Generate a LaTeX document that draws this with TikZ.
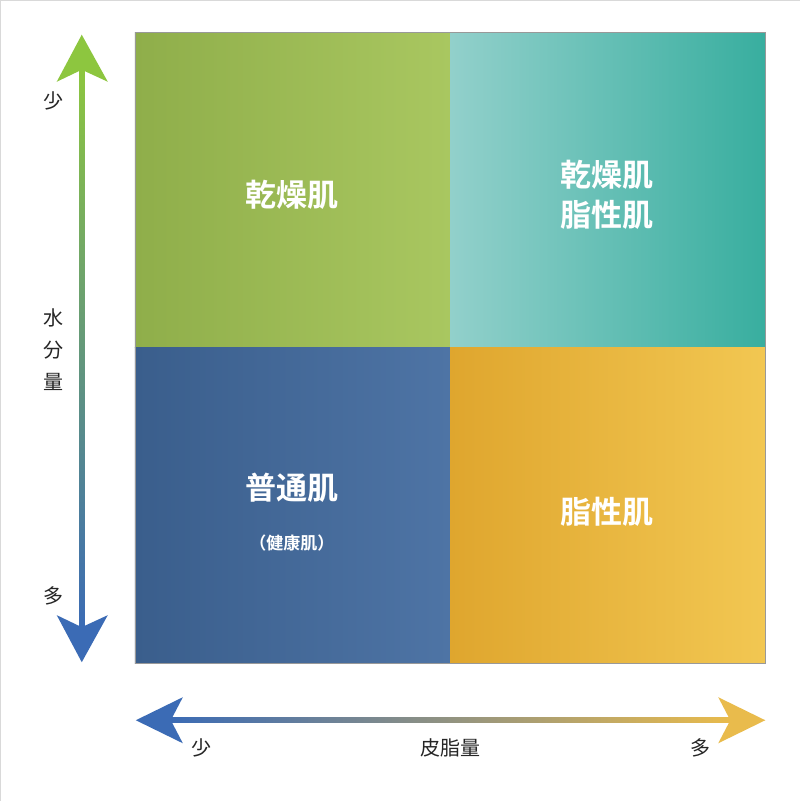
\documentclass[tikz,border=0pt]{standalone}
\usepackage{fontspec}
\newfontfamily\cjk{Noto Sans CJK JP}
\newfontfamily\cjkb{Noto Sans CJK JP Bold}
\definecolor{g1}{HTML}{8FAE4A}\definecolor{g2}{HTML}{A9C760}
\definecolor{t1}{HTML}{92D0CB}\definecolor{t2}{HTML}{38AE9F}
\definecolor{b1}{HTML}{3A5E8C}\definecolor{b2}{HTML}{4E74A5}
\definecolor{y1}{HTML}{DFA62E}\definecolor{y2}{HTML}{F2C752}
\definecolor{ag}{HTML}{8DC63F}\definecolor{ab}{HTML}{3B6BB5}\definecolor{ay}{HTML}{E9BB4C}
\tikzset{big/.style={text=white,font=\cjkb\fontsize{31}{40}\selectfont,align=center},
lab/.style={text=black!85,font=\cjk\fontsize{20}{22}\selectfont}}
\begin{document}
\begin{tikzpicture}[x=1pt,y=-1pt]
\draw[black!15,fill=white] (0.5,0.5) rectangle (799.5,800.5);
\shade[left color=g1,right color=g2] (135,33) rectangle (450,348);
\shade[left color=t1,right color=t2] (450,33) rectangle (765,348);
\shade[left color=b1,right color=b2] (135,348) rectangle (450,663);
\shade[left color=y1,right color=y2] (450,348) rectangle (765,663);
\draw[black!40,line width=0.6pt] (135,33) rectangle (765,663);
\node[big] (q1) at (292,195) {乾燥肌};
\node[big] (q2) at (607,195) {乾燥肌\\脂性肌};
\node[big] (q3) at (292,488) {普通肌};
\node[text=white,font=\cjkb\fontsize{17}{20}\selectfont] (q3b) at (292,543) {（健康肌）};
\node[big] (q4) at (607,512) {脂性肌};
% vertical arrow
\shade[top color=ag,bottom color=ab] (79.5,70) rectangle (84.5,627);
\fill[ag] (82,35) -- (108,82) -- (82,70) -- (57,82) -- cycle;
\fill[ab] (82,662) -- (108,615) -- (82,627) -- (57,615) -- cycle;
% horizontal arrow
\shade[left color=ab,right color=ay] (171,717.5) rectangle (730,722.5);
\fill[ab] (136,720) -- (183,697) -- (171,720) -- (183,743) -- cycle;
\fill[ay] (765,720) -- (718,697) -- (730,720) -- (718,743) -- cycle;
\node[lab] (l1) at (54,101) {少};
\node[lab,align=center,font=\cjk\fontsize{20}{32}\selectfont] (l2) at (54,350) {水\\分\\量};
\node[lab] (l3) at (54,596) {多};
\node[lab] (l4) at (202,748) {少};
\node[lab] (l5) at (450,748) {皮脂量};
\node[lab] (l6) at (700,748) {多};
\end{tikzpicture}
\end{document}
